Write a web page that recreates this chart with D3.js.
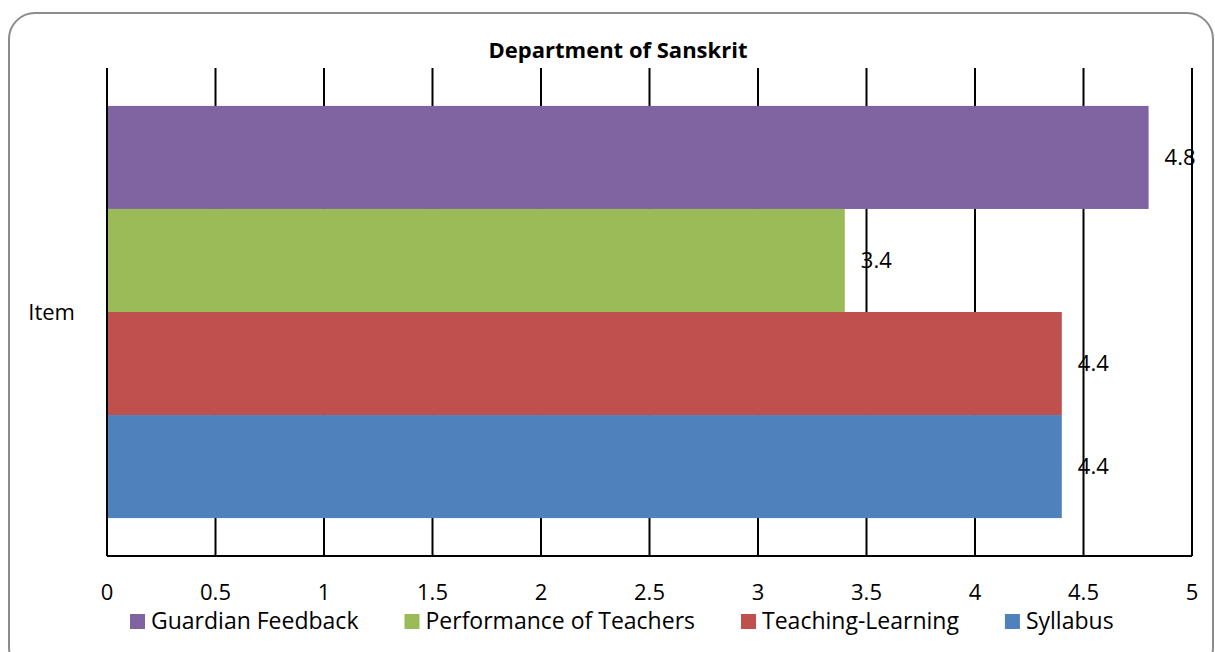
<!DOCTYPE html>
<html>
<head>
<meta charset="utf-8">
<script src="https://cdn.jsdelivr.net/npm/d3@7"></script>
<style>
  body { margin: 0; background: #fff; }
  svg text { font-family: "Open Sans", "Noto Sans", sans-serif; fill: #000; }
</style>
</head>
<body>
<div id="chart"></div>
<script>
// data
const category = 'Item'
const series = ['Guardian Feedback', 'Performance of Teachers', 'Teaching-Learning', 'Syllabus']
const values = [4.8, 3.4, 4.4, 4.4]
const colors = ['#8064a2', '#9bbb59', '#c0504d', '#4f81bd']
const xTicks = [0, 0.5, 1, 1.5, 2, 2.5, 3, 3.5, 4, 4.5, 5]

const W = 1215, H = 652
const margin = { top: 68, right: 23, bottom: 96, left: 107 }
const width = W - margin.left - margin.right
const height = H - margin.top - margin.bottom

const svg = d3.select('#chart').append('svg')
    .attr('width', W)
    .attr('height', H)

// chart frame
svg.append('rect')
    .attr('x', 9).attr('y', 13)
    .attr('width', 1204).attr('height', 660)
    .attr('rx', 26).attr('ry', 26)
    .style('fill', '#fff')
    .style('stroke', '#8c8c8c')
    .style('stroke-width', 2)

svg.append('text')
    .attr('x', 618).attr('y', 50)
    .attr('dy', '0.35em')
    .attr('text-anchor', 'middle')
    .style('font-weight', 'bold')
    .style('font-size', '22px')
    .text('Department of Sanskrit')

const g = svg.append('g')
    .attr('transform', 'translate(' + margin.left + ',' + margin.top + ')')

const x = d3.scaleLinear().domain([0, 5]).range([0, width])
const y0 = d3.scaleBand().domain([category]).range([0, height]).paddingInner(0).paddingOuter(0.092)
const y1 = d3.scaleBand().domain(series).range([0, y0.bandwidth()])

// gridlines
g.selectAll('.grid')
    .data(xTicks)
    .enter().append('line')
    .attr('class', 'grid')
    .attr('x1', d => x(d)).attr('x2', d => x(d))
    .attr('y1', 0).attr('y2', height)
    .style('stroke', '#000')
    .style('stroke-width', 2)

// bars
const bars = g.append('g')
    .attr('transform', 'translate(0,' + y0(category) + ')')

bars.selectAll('rect')
    .data(series)
    .enter().append('rect')
    .attr('x', x(0))
    .attr('y', d => y1(d))
    .attr('width', (d, i) => x(values[i]) - x(0))
    .attr('height', y1.bandwidth())
    .style('fill', (d, i) => colors[i])

bars.selectAll('text')
    .data(series)
    .enter().append('text')
    .attr('x', (d, i) => x(values[i]) + 16)
    .attr('y', d => y1(d) + y1.bandwidth() / 2)
    .attr('dy', '0.35em')
    .style('font-size', '22px')
    .text((d, i) => values[i])

// axes
g.append('line')
    .attr('x1', 0).attr('x2', width)
    .attr('y1', height).attr('y2', height)
    .style('stroke', '#000').style('stroke-width', 2)
g.append('line')
    .attr('x1', 0).attr('x2', 0)
    .attr('y1', 0).attr('y2', height)
    .style('stroke', '#000').style('stroke-width', 2)

g.selectAll('.xlabel')
    .data(xTicks)
    .enter().append('text')
    .attr('class', 'xlabel')
    .attr('x', d => x(d))
    .attr('y', height + 36)
    .attr('dy', '0.35em')
    .attr('text-anchor', 'middle')
    .style('font-size', '22px')
    .text(d => d)

g.append('text')
    .attr('x', -32)
    .attr('y', y0(category) + y0.bandwidth() / 2)
    .attr('dy', '0.35em')
    .attr('text-anchor', 'end')
    .style('font-size', '22px')
    .text(category)

// legend
const legend = svg.append('g').attr('transform', 'translate(130,621)')
let lx = 0
series.forEach((s, i) => {
    const item = legend.append('g').attr('transform', 'translate(' + lx + ',0)')
    item.append('rect')
        .attr('x', 0).attr('y', -7)
        .attr('width', 15).attr('height', 15)
        .style('fill', colors[i])
    const t = item.append('text')
        .attr('x', 21)
        .attr('dy', '0.35em')
        .style('font-size', '23px')
        .text(s)
    lx += 21 + t.node().getComputedTextLength() + 46
})
</script>
</body>
</html>
